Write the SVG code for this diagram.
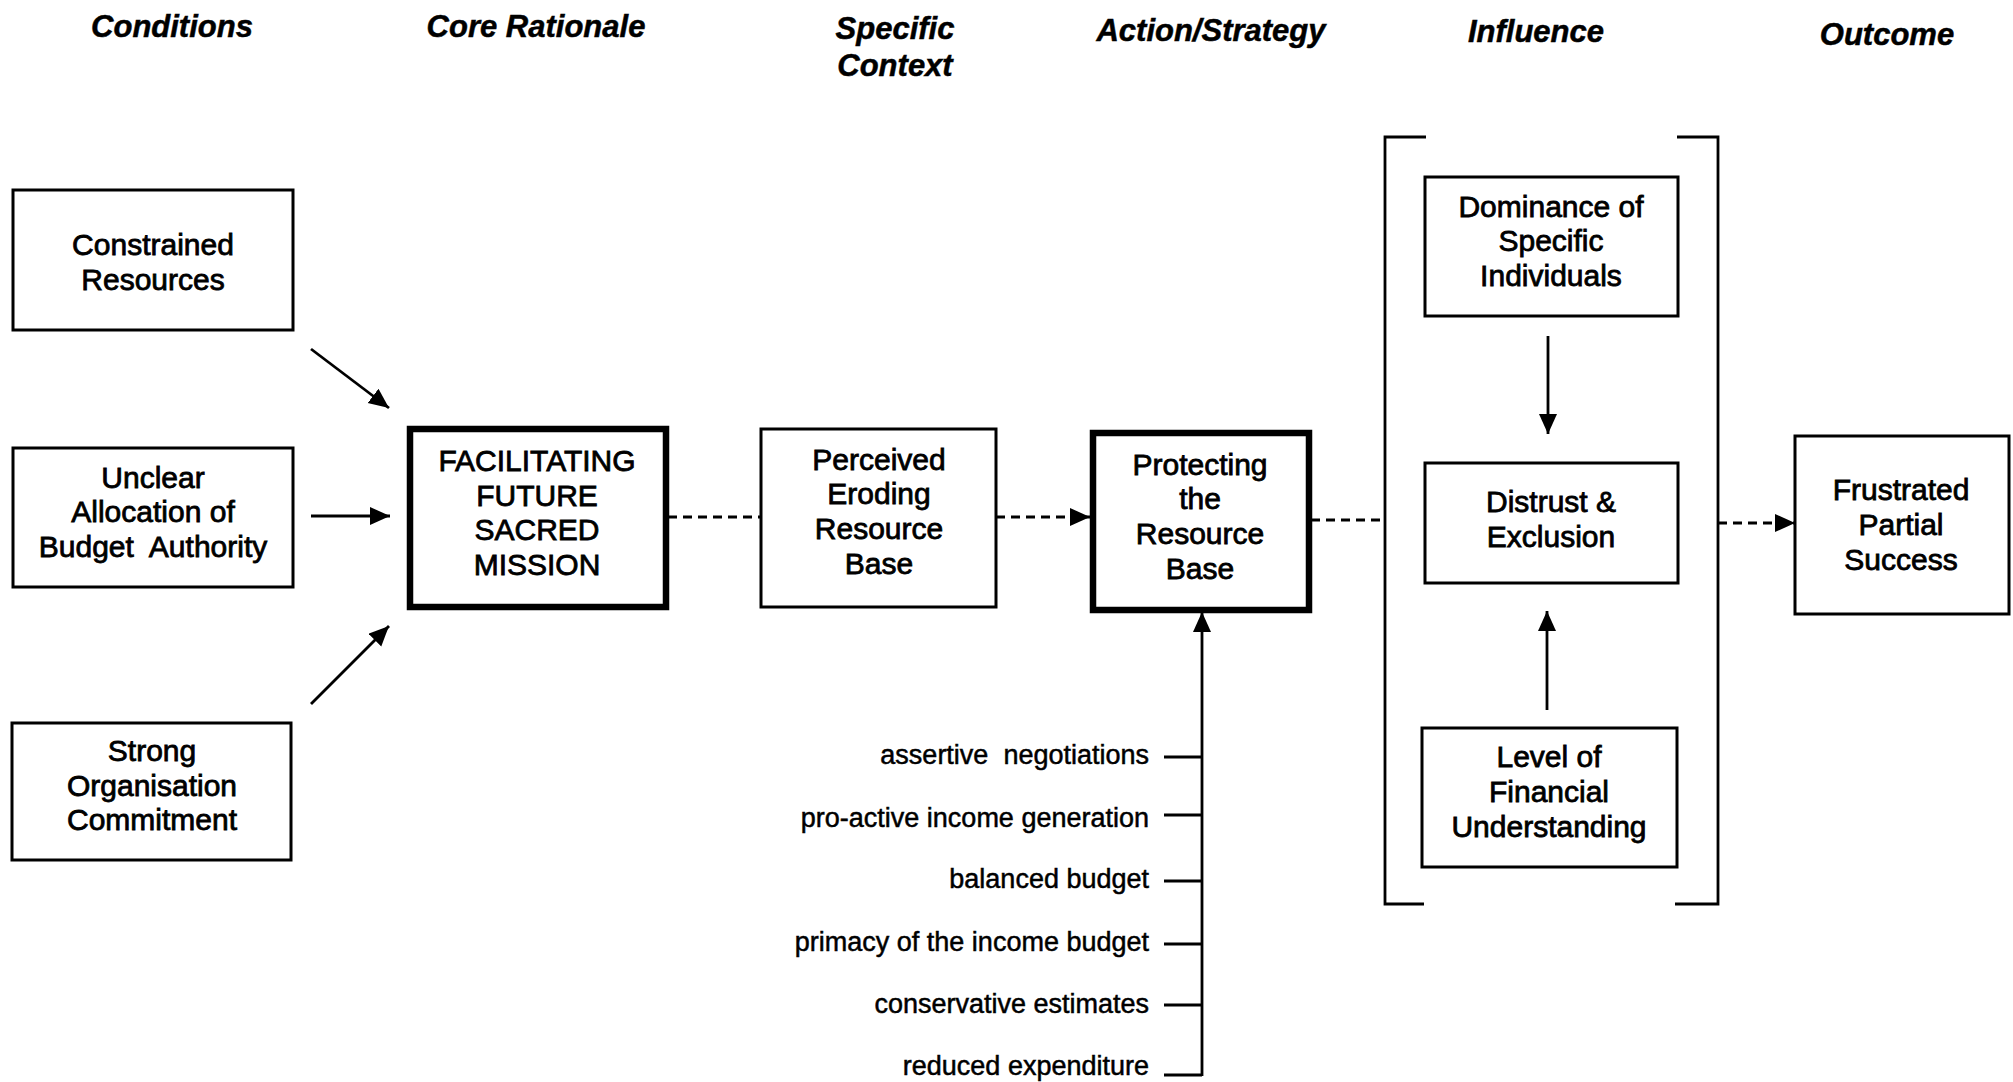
<svg xmlns="http://www.w3.org/2000/svg" width="2013" height="1082" viewBox="0 0 2013 1082">
<defs>
<marker id="ah" markerUnits="userSpaceOnUse" markerWidth="22" markerHeight="20" refX="20" refY="9" orient="auto">
<path d="M0,0 L20,9 L0,18 z" fill="#000"/>
</marker>
<style>
.hd{font-family:"Liberation Sans",Arial,sans-serif;font-weight:bold;font-style:italic;font-size:31px;fill:#000;stroke:#000;stroke-width:0.5;text-anchor:middle}
.bx{fill:#fff;stroke:#000;stroke-width:3}
.bxt{fill:#fff;stroke:#000;stroke-width:6.5}
.t{font-family:"Liberation Sans",Arial,sans-serif;font-size:30px;fill:#000;stroke:#000;stroke-width:0.8;text-anchor:middle}
.lb{font-family:"Liberation Sans",Arial,sans-serif;font-size:27px;fill:#000;stroke:#000;stroke-width:0.5;text-anchor:end}
.ln{stroke:#000;stroke-width:2.8;fill:none}
.ds{stroke:#000;stroke-width:2.8;fill:none;stroke-dasharray:9 6}
</style>
</defs>
<rect width="2013" height="1082" fill="#fff"/>

<g id="headers">
<text class="hd" x="172" y="37">Conditions</text>
<text class="hd" x="536" y="37">Core Rationale</text>
<text class="hd" x="895" y="39">Specific</text>
<text class="hd" x="895" y="76">Context</text>
<text class="hd" x="1211" y="41">Action/Strategy</text>
<text class="hd" x="1536" y="42">Influence</text>
<text class="hd" x="1887" y="45">Outcome</text>
</g>

<g id="connectors">
<line class="ln" x1="311" y1="349" x2="389" y2="408" marker-end="url(#ah)"/>
<line class="ln" x1="311" y1="516" x2="390" y2="516" marker-end="url(#ah)"/>
<line class="ln" x1="311" y1="704" x2="389" y2="626" marker-end="url(#ah)"/>
<line class="ds" x1="668" y1="517" x2="761" y2="517"/>
<line class="ds" x1="996" y1="517" x2="1090" y2="517" marker-end="url(#ah)"/>
<line class="ds" x1="1311" y1="520" x2="1385" y2="520"/>
<line class="ds" x1="1718" y1="523" x2="1795" y2="523" marker-end="url(#ah)"/>
<line class="ln" x1="1548" y1="336" x2="1548" y2="434" marker-end="url(#ah)"/>
<line class="ln" x1="1547" y1="710" x2="1547" y2="611" marker-end="url(#ah)"/>
<line class="ln" x1="1202" y1="1076" x2="1202" y2="612" marker-end="url(#ah)"/>
<line class="ln" x1="1164" y1="757" x2="1202" y2="757"/>
<line class="ln" x1="1164" y1="815" x2="1202" y2="815"/>
<line class="ln" x1="1164" y1="881" x2="1202" y2="881"/>
<line class="ln" x1="1164" y1="944" x2="1202" y2="944"/>
<line class="ln" x1="1164" y1="1005" x2="1202" y2="1005"/>
<line class="ln" x1="1164" y1="1075" x2="1202" y2="1075"/>
</g>

<g id="bracket">
<path class="ln" d="M1426,137 H1385 V904 H1424"/>
<path class="ln" d="M1677,137 H1718 V904 H1675"/>
</g>

<g id="constrained">
<rect class="bx" x="13" y="190" width="280" height="140"/>
<text class="t" x="153" y="255">Constrained</text>
<text class="t" x="153" y="290">Resources</text>
</g>
<g id="unclear">
<rect class="bx" x="13" y="448" width="280" height="139"/>
<text class="t" x="153" y="488">Unclear</text>
<text class="t" x="153" y="522">Allocation of</text>
<text class="t" x="153" y="557" xml:space="preserve">Budget  Authority</text>
</g>
<g id="strong">
<rect class="bx" x="12" y="723" width="279" height="137"/>
<text class="t" x="152" y="761">Strong</text>
<text class="t" x="152" y="796">Organisation</text>
<text class="t" x="152" y="830">Commitment</text>
</g>
<g id="facilitating">
<rect class="bxt" x="410" y="429" width="256" height="178"/>
<text class="t" x="537" y="471">FACILITATING</text>
<text class="t" x="537" y="506">FUTURE</text>
<text class="t" x="537" y="540">SACRED</text>
<text class="t" x="537" y="575">MISSION</text>
</g>
<g id="perceived">
<rect class="bx" x="761" y="429" width="235" height="178"/>
<text class="t" x="879" y="470">Perceived</text>
<text class="t" x="879" y="504">Eroding</text>
<text class="t" x="879" y="539">Resource</text>
<text class="t" x="879" y="574">Base</text>
</g>
<g id="protecting">
<rect class="bxt" x="1093" y="433" width="216" height="177"/>
<text class="t" x="1200" y="475">Protecting</text>
<text class="t" x="1200" y="509">the</text>
<text class="t" x="1200" y="544">Resource</text>
<text class="t" x="1200" y="579">Base</text>
</g>
<g id="dominance">
<rect class="bx" x="1425" y="177" width="253" height="139"/>
<text class="t" x="1551" y="217">Dominance of</text>
<text class="t" x="1551" y="251">Specific</text>
<text class="t" x="1551" y="286">Individuals</text>
</g>
<g id="distrust">
<rect class="bx" x="1425" y="463" width="253" height="120"/>
<text class="t" x="1551" y="512">Distrust &amp;</text>
<text class="t" x="1551" y="547">Exclusion</text>
</g>
<g id="level">
<rect class="bx" x="1422" y="728" width="255" height="139"/>
<text class="t" x="1549" y="767">Level of</text>
<text class="t" x="1549" y="802">Financial</text>
<text class="t" x="1549" y="837">Understanding</text>
</g>
<g id="frustrated">
<rect class="bx" x="1795" y="436" width="214" height="178"/>
<text class="t" x="1901" y="500">Frustrated</text>
<text class="t" x="1901" y="535">Partial</text>
<text class="t" x="1901" y="570">Success</text>
</g>

<g id="tactics">
<text class="lb" x="1149" y="764" xml:space="preserve">assertive  negotiations</text>
<text class="lb" x="1149" y="827">pro-active income generation</text>
<text class="lb" x="1149" y="888">balanced budget</text>
<text class="lb" x="1149" y="951">primacy of the income budget</text>
<text class="lb" x="1149" y="1013">conservative estimates</text>
<text class="lb" x="1149" y="1075">reduced expenditure</text>
</g>
</svg>
